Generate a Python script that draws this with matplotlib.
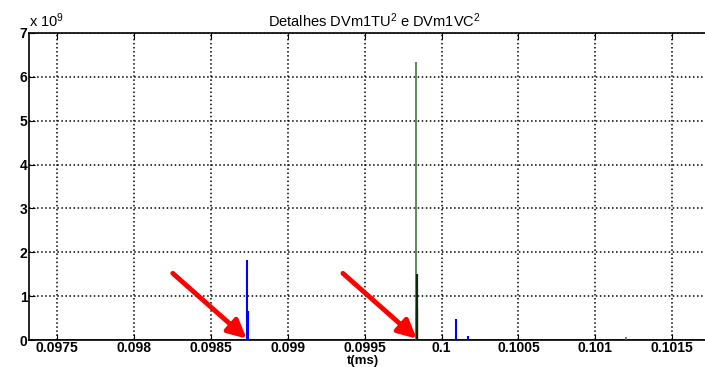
import matplotlib
matplotlib.use("Agg")
import matplotlib.pyplot as plt

plt.rcParams['font.family'] = ['Liberation Sans', 'DejaVu Sans']
plt.rcParams['mathtext.default'] = 'regular'

# spike times (ms) and heights (x 1e9)
blue_t = [0.098733, 0.098740, 0.100092, 0.100170]
blue_v = [1.82, 0.66, 0.48, 0.08]
green_t = [0.099832, 0.101200]
green_v = [6.33, 0.06]
dark_t = [0.099839, 0.099843]
dark_v = [1.50, 0.73]

xticks = [0.0975, 0.098, 0.0985, 0.099, 0.0995, 0.1, 0.1005, 0.101, 0.1015]
xtick_labels = ['0.0975', '0.098', '0.0985', '0.099', '0.0995', '0.1', '0.1005', '0.101', '0.1015']
yticks = [0, 1, 2, 3, 4, 5, 6, 7]

fig = plt.figure(figsize=(7.05, 3.67), dpi=100)
# axes runs past the right edge of the picture, like the cropped original
ax = fig.add_axes([29 / 705, 1 - 340 / 367, 690 / 705, 307 / 367])

ax.axhline(0, color='#2f6b2f', lw=2, zorder=2)
ax.vlines(green_t, 0, green_v, color='#3f7a3f', lw=1.2, zorder=3)
ax.vlines(dark_t, 0, dark_v, color='#0a2a0a', lw=1.6, zorder=4)
ax.vlines(blue_t, 0, blue_v, color='#0000ff', lw=1.5, zorder=4)

# red arrows pointing at the two events
for tip in [blue_t[0], dark_t[0]]:
    ax.annotate('', xy=(tip, 0.03), xytext=(tip - 0.00048, 1.52),
                arrowprops=dict(arrowstyle='-|>,head_length=1.1,head_width=0.55',
                                color='#ff0000', lw=3.5, shrinkA=0, shrinkB=0),
                zorder=5)

ax.set_xlim(0.097318, 0.101804)
ax.set_ylim(0, 7)
ax.set_xticks(xticks)
ax.set_xticklabels(xtick_labels)
ax.set_yticks(yticks)
ax.tick_params(direction='in', length=4, top=True, right=True, labelsize=10, pad=1)
for lab in ax.get_xticklabels() + ax.get_yticklabels():
    lab.set_fontweight('bold')
ax.grid(True, color='black', linestyle=':', lw=1.1)
for s in ax.spines.values():
    s.set_linewidth(1.2)

ax.set_title('Detalhes DVm1TU$^{2}$ e DVm1VC$^{2}$', fontsize=10.5, pad=4)
ax.text(0.0, 1.01, 'x 10$^{9}$', transform=ax.transAxes, fontsize=10.5,
        ha='left', va='bottom')
fig.text(363 / 705, 0.0, 't(ms)', fontsize=9.5, fontweight='bold',
         ha='center', va='bottom')

fig.savefig('out.png', dpi=100)
